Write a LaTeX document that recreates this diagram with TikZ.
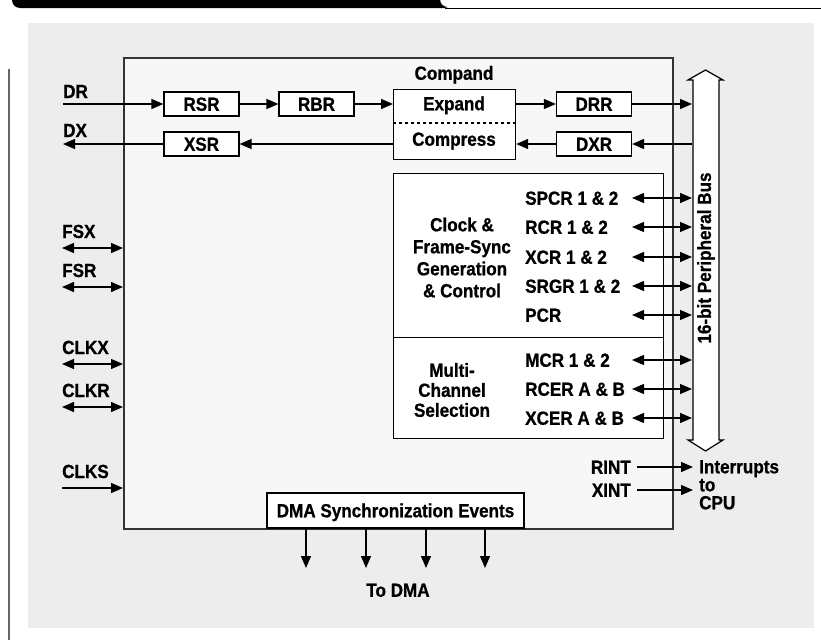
\documentclass[tikz,border=0pt]{standalone}
\usepackage{fontspec}
\setmainfont{Liberation Sans}[FakeStretch=0.9,BoldFeatures={FakeBold=0.8}]
\usetikzlibrary{arrows.meta,positioning}
\definecolor{panneau}{RGB}{237,237,237}
\definecolor{coeur}{RGB}{247,247,247}
\definecolor{trait}{RGB}{51,51,51}

\begin{document}
\begin{tikzpicture}[x=1pt,y=-1pt,
  lbl/.style={font=\fontsize{19}{22}\selectfont\bfseries,inner sep=0pt},
  regbox/.style={draw,fill=white,line width=1.2pt,minimum width=75pt,minimum height=24pt,
    inner sep=0pt,font=\fontsize{19}{22}\selectfont\bfseries,text height=13.5pt,text depth=0pt},
  arr/.style={-{Triangle[length=12pt,width=10pt]},line width=1.3pt},
  dbl/.style={{Triangle[length=12pt,width=10pt]}-{Triangle[length=12pt,width=10pt]},line width=1.3pt}]
  \useasboundingbox (0,0) rectangle (821,640);
  % bandeau du haut
  \fill[rounded corners=8pt] (12,-10) rectangle (452,8);
  \fill[white,rounded corners=8pt] (440,-10) rectangle (835,7);
  \draw[line width=1pt] (445,8) -- (821,8);
  \draw[gray!80!black,line width=2pt] (9,69) -- (9,640);
  % fond
  \fill[panneau] (28,23) rectangle (814,628);
  \node[draw=trait,fill=coeur,line width=1.5pt,anchor=north west,inner sep=0pt,
    minimum width=549pt,minimum height=471pt] (core) at (123,57) {};
  % bus 16 bits
  \draw[line width=1.2pt,fill=white] (693,80) -- (688,80) -- (705.5,70) -- (723,80) -- (719,80)
    -- (719,440) -- (723,440) -- (705.5,451) -- (688,440) -- (693,440) -- cycle;
  \node[lbl,rotate=90] (bus) at (706,258) {16-bit Peripheral Bus};
  \coordinate (busL) at (692,0);
  \coordinate (regR) at (632,0);
  % chemin de donnees
  \node[regbox] (rsr) at (201.5,104) {RSR};
  \node[regbox] (rbr) at (316.5,104) {RBR};
  \node[regbox] (xsr) at (201.5,144) {XSR};
  \node[regbox] (drr) at (594,104) {DRR};
  \node[regbox] (dxr) at (594,144) {DXR};
  \node[draw,fill=white,line width=1.2pt,anchor=north west,inner sep=0pt,
    minimum width=122pt,minimum height=70pt] (compand) at (393,89) {};
  \draw[dashed,line width=1.2pt] (compand.west |- 0,123) -- (compand.east |- 0,123);
  \node[lbl,text height=13.5pt,text depth=0pt] (expand) at (454,103.5) {Expand};
  \node[lbl,text height=13.5pt,text depth=0pt] (compress) at (454,139) {Compress};
  \node[lbl,text height=13.5pt,text depth=0pt] (cmpd) at (454,73) {Compand};
  \node[lbl,anchor=base west] (DR) at (63,98) {DR};
  \node[lbl,anchor=base west] (DX) at (63,137) {DX};
  \draw[arr] (rsr.west -| DR.west) -- (rsr.west);
  \draw[arr] (rsr) -- (rbr);
  \draw[arr] (rbr) -- (rbr -| compand.west);
  \draw[arr] (rbr -| compand.east) -- (drr);
  \draw[arr] (drr) -- (drr -| busL);
  \draw[arr] (dxr -| busL) -- (dxr);
  \draw[arr] (dxr) -- (dxr -| compand.east);
  \draw[arr] (xsr -| compand.west) -- (xsr);
  \draw[arr] (xsr) -- (xsr.west -| DX.west);
  % broches de gauche
  \foreach \nom/\yb in {FSX/238,FSR/277,CLKX/354,CLKR/397}{
    \node[lbl,anchor=base west] (\nom) at (62,\yb) {\nom};
    \draw[dbl] ([yshift=-10pt]\nom.base west) -- ([yshift=-10pt]\nom.base west -| core.west);
  }
  \node[lbl,anchor=base west] (CLKS) at (62,478) {CLKS};
  \draw[arr] ([yshift=-10pt]CLKS.base west) -- ([yshift=-10pt]CLKS.base west -| core.west);
  % horloge et multicanal
  \node[draw,fill=white,line width=1.2pt,anchor=north west,inner sep=0pt,
    minimum width=270pt,minimum height=164pt] (clk) at (393,173) {};
  \node[draw,fill=white,line width=1.2pt,anchor=north west,inner sep=0pt,
    minimum width=270pt,minimum height=101pt] (mch) at (393,337) {};
  \node[lbl,align=center] (clktxt) at (462,257.5) {Clock \&\\Frame-Sync\\Generation\\\& Control};
  \node[lbl,align=center,font=\fontsize{19}{20}\selectfont\bfseries] (mchtxt) at (452,390)
    {Multi-\\Channel\\Selection};
  \foreach \txt/\y [count=\i] in {SPCR 1 \& 2/198,RCR 1 \& 2/227,XCR 1 \& 2/257,SRGR 1 \& 2/286,
      PCR/315,MCR 1 \& 2/360,RCER A \& B/389,XCER A \& B/418}{
    \node[lbl,anchor=west,text height=13.5pt,text depth=0pt] (r\i) at (525,\y) {\txt};
    \draw[dbl] (r\i.west -| regR) -- (r\i.west -| busL);
  }
  % interruptions
  \coordinate (cpuIn) at (693,0);
  \node[lbl,anchor=east,inner xsep=6pt,text height=13.5pt,text depth=0pt] (rint) at (637,467) {RINT};
  \node[lbl,anchor=east,inner xsep=6pt,text height=13.5pt,text depth=0pt] (xint) at (637,490) {XINT};
  \node[lbl,anchor=north west,align=left,font=\fontsize{19}{18}\selectfont\bfseries] (irq)
    at (699,460) {Interrupts\\to\\CPU};
  \draw[arr] (rint.east) -- (rint.east -| cpuIn);
  \draw[arr] (xint.east) -- (xint.east -| cpuIn);
  % DMA
  \node[regbox,minimum width=257pt,minimum height=35pt] (dma) at (395.5,510.5)
    {DMA Synchronization Events};
  \node[lbl,text height=13.5pt,text depth=0pt] (todma) at (398,590) {To DMA};
  \coordinate (dmaTip) at (0,568);
  \foreach \x in {306,366,426,485}{
    \draw[arr] (dma.south -| \x,0) -- (\x,0 |- dmaTip);
  }
\end{tikzpicture}
\end{document}
